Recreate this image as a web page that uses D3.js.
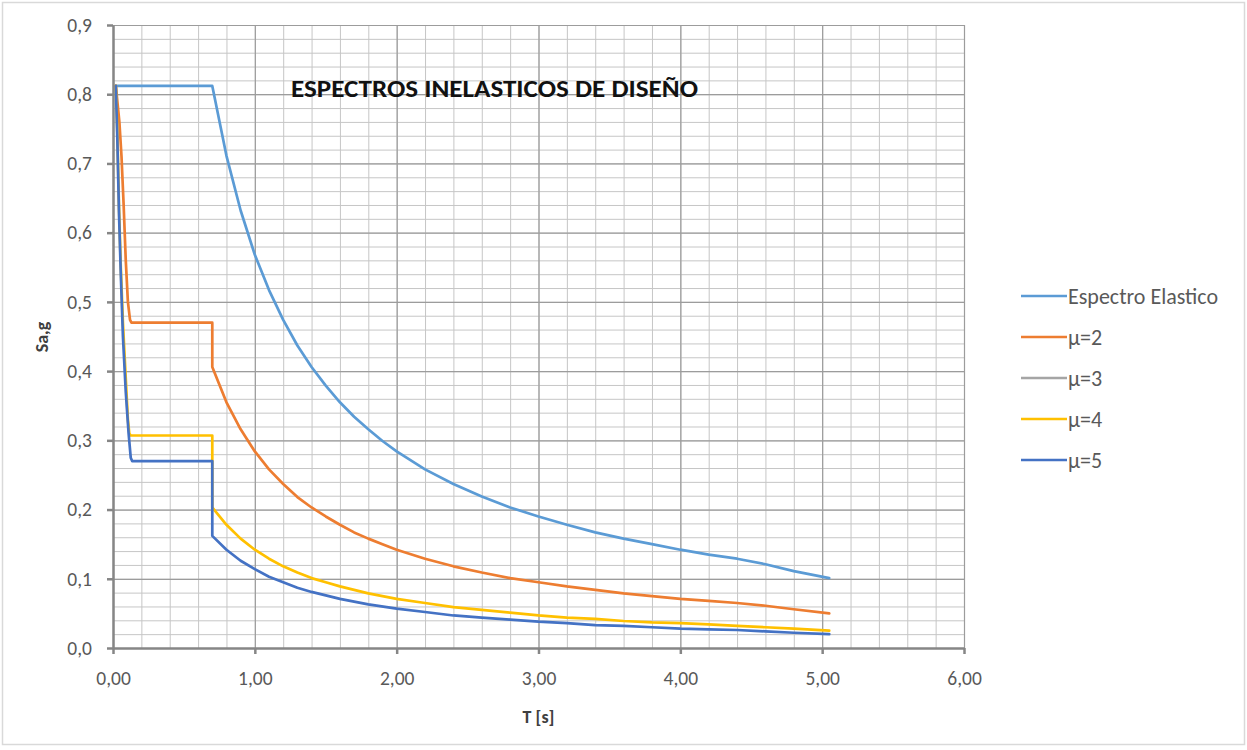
<!DOCTYPE html>
<html>
<head>
<meta charset="utf-8">
<script src="https://cdn.jsdelivr.net/npm/d3@7/dist/d3.min.js"></script>
<style>
  html, body { margin: 0; padding: 0; background: #ffffff; }
  svg { display: block; }
  text { font-family: Carlito, Calibri, Lato, "Open Sans", sans-serif; }
</style>
</head>
<body>
<svg id="chart" width="1247" height="750"></svg>
<script>
// ---- Data: period T [s] and spectral acceleration Sa [g] ----
const elasticT  = [0.02, 0.70, 0.80, 0.90, 1.00, 1.10, 1.20, 1.30, 1.40, 1.50, 1.60, 1.70, 1.80, 1.90, 2.00, 2.20, 2.40, 2.60, 2.80, 3.00, 3.20, 3.40, 3.60, 3.80, 4.00, 4.20, 4.40, 4.60, 4.80, 5.05];
const elasticSa = [0.812, 0.812, 0.711, 0.632, 0.568, 0.517, 0.474, 0.437, 0.406, 0.379, 0.355, 0.334, 0.316, 0.299, 0.284, 0.258, 0.237, 0.219, 0.203, 0.190, 0.178, 0.167, 0.158, 0.150, 0.142, 0.135, 0.129, 0.121, 0.111, 0.101];

const mu2T  = [0.02, 0.045, 0.06, 0.075, 0.09, 0.105, 0.12, 0.13, 0.70, 0.70, 0.80, 0.90, 1.00, 1.10, 1.20, 1.30, 1.40, 1.50, 1.60, 1.70, 1.80, 1.90, 2.00, 2.20, 2.40, 2.60, 2.80, 3.00, 3.20, 3.40, 3.60, 3.80, 4.00, 4.20, 4.40, 4.60, 4.80, 5.05];
const mu2Sa = [0.812, 0.760, 0.710, 0.640, 0.560, 0.500, 0.474, 0.470, 0.470, 0.406, 0.355, 0.316, 0.284, 0.258, 0.237, 0.218, 0.203, 0.190, 0.178, 0.167, 0.158, 0.150, 0.142, 0.129, 0.118, 0.109, 0.101, 0.095, 0.089, 0.084, 0.079, 0.075, 0.071, 0.068, 0.065, 0.061, 0.056, 0.050];

// μ=3 has no plotted values in this chart (legend entry only)
const mu3T  = [];
const mu3Sa = [];

const mu4T  = [0.02, 0.03, 0.042, 0.055, 0.07, 0.09, 0.105, 0.115, 0.125, 0.70, 0.70, 0.80, 0.90, 1.00, 1.10, 1.20, 1.30, 1.40, 1.50, 1.60, 1.80, 2.00, 2.20, 2.40, 2.60, 2.80, 3.00, 3.20, 3.40, 3.60, 3.80, 4.00, 4.20, 4.40, 4.60, 4.80, 5.05];
const mu4Sa = [0.812, 0.750, 0.640, 0.550, 0.470, 0.390, 0.330, 0.310, 0.307, 0.307, 0.203, 0.178, 0.158, 0.142, 0.129, 0.118, 0.109, 0.101, 0.095, 0.089, 0.079, 0.071, 0.065, 0.059, 0.055, 0.051, 0.047, 0.044, 0.042, 0.039, 0.037, 0.036, 0.034, 0.032, 0.030, 0.028, 0.025];

const mu5T  = [0.02, 0.03, 0.042, 0.055, 0.07, 0.09, 0.11, 0.125, 0.135, 0.70, 0.70, 0.80, 0.90, 1.00, 1.10, 1.20, 1.30, 1.40, 1.50, 1.60, 1.80, 2.00, 2.20, 2.40, 2.60, 2.80, 3.00, 3.20, 3.40, 3.60, 3.80, 4.00, 4.20, 4.40, 4.60, 4.80, 5.05];
const mu5Sa = [0.812, 0.740, 0.630, 0.540, 0.450, 0.370, 0.310, 0.275, 0.270, 0.270, 0.162, 0.142, 0.126, 0.114, 0.103, 0.095, 0.087, 0.081, 0.076, 0.071, 0.063, 0.057, 0.052, 0.047, 0.044, 0.041, 0.038, 0.036, 0.033, 0.032, 0.030, 0.028, 0.027, 0.026, 0.024, 0.022, 0.020];

const seriesNames  = ["Espectro Elastico", "μ=2", "μ=3", "μ=4", "μ=5"];
const seriesColors = ["#5b9bd5", "#ed7d31", "#a5a5a5", "#ffc000", "#4472c4"];
const seriesT  = [elasticT, mu2T, mu3T, mu4T, mu5T];
const seriesSa = [elasticSa, mu2Sa, mu3Sa, mu4Sa, mu5Sa];

const xTickValues = [0, 1, 2, 3, 4, 5, 6];
const yTickValues = [0, 0.1, 0.2, 0.3, 0.4, 0.5, 0.6, 0.7, 0.8, 0.9];

const chartTitle = "ESPECTROS INELASTICOS DE DISEÑO";
const xTitle = "T [s]";
const yTitle = "Sa,g";

// ---- Layout ----
const W = 1247, H = 750;
const plot = { left: 113, right: 964, top: 25, bottom: 648 };

const svg = d3.select("#chart");

// outer chart frame
svg.append("rect")
  .attr("x", 2.5).attr("y", 2.5)
  .attr("width", W - 5).attr("height", H - 8)
  .attr("fill", "#ffffff")
  .attr("stroke", "#d9d9d9").attr("stroke-width", 1.5);

const x = d3.scaleLinear().domain([0, 6]).range([plot.left, plot.right]);
const y = d3.scaleLinear().domain([0, 0.9]).range([plot.bottom, plot.top]);

const locale = d3.formatLocale({ decimal: ",", thousands: ".", grouping: [3], currency: ["", ""] });
const fmtX = locale.format(".2f");
const fmtY = locale.format(".1f");

// ---- Gridlines (minor then major) ----
const grid = svg.append("g").attr("class", "grid");
const xMinor = d3.range(0, 6.0001, 0.2);
const yMinor = d3.range(0, 0.9001, 0.02);

function gridLayer(axisFn, translate, values, size, color, width) {
  grid.append("g")
    .attr("transform", translate)
    .call(axisFn.tickValues(values).tickSize(size).tickFormat(""))
    .call(g => g.select(".domain").remove())
    .call(g => g.selectAll("line").attr("stroke", color).attr("stroke-width", width));
}
gridLayer(d3.axisBottom(x), `translate(0,${plot.bottom})`, xMinor, -(plot.bottom - plot.top), "#c6c6c6", 1);
gridLayer(d3.axisLeft(y), `translate(${plot.left},0)`, yMinor, -(plot.right - plot.left), "#c6c6c6", 1);
gridLayer(d3.axisBottom(x), `translate(0,${plot.bottom})`, xTickValues, -(plot.bottom - plot.top), "#9c9c9c", 1.2);
gridLayer(d3.axisLeft(y), `translate(${plot.left},0)`, yTickValues, -(plot.right - plot.left), "#9c9c9c", 1.2);

// ---- Axes ----
const xAxis = svg.append("g")
  .attr("transform", `translate(0,${plot.bottom})`)
  .call(d3.axisBottom(x).tickValues(xTickValues).tickSize(6).tickSizeOuter(0).tickPadding(17).tickFormat(fmtX));
const yAxis = svg.append("g")
  .attr("transform", `translate(${plot.left},0)`)
  .call(d3.axisLeft(y).tickValues(yTickValues).tickSize(6).tickSizeOuter(0).tickPadding(15).tickFormat(fmtY));

[xAxis, yAxis].forEach(a => {
  a.select(".domain").attr("stroke", "#868686").attr("stroke-width", 2.5);
  a.selectAll(".tick line").attr("stroke", "#868686").attr("stroke-width", 2.5);
  a.selectAll(".tick text")
    .attr("fill", "#595959")
    .style("font-size", "19.5px")
    .style("font-family", "Carlito, Calibri, Lato, sans-serif");
});

// ---- Series ----
const line = d3.line()
  .x(d => x(d[0]))
  .y(d => y(d[1]));

const linesG = svg.append("g").attr("class", "series");
seriesNames.forEach((name, i) => {
  const pts = seriesT[i].map((t, k) => [t, seriesSa[i][k]]);
  if (!pts.length) return;
  linesG.append("path")
    .datum(pts)
    .attr("fill", "none")
    .attr("stroke", seriesColors[i])
    .attr("stroke-width", 2.7)
    .attr("stroke-linejoin", "round")
    .attr("stroke-linecap", "round")
    .attr("d", line);
});

// ---- Title ----
svg.append("text")
  .attr("x", 494.5).attr("y", 97)
  .attr("text-anchor", "middle")
  .attr("fill", "#111111")
  .attr("textLength", 407)
  .attr("lengthAdjust", "spacingAndGlyphs")
  .style("font-size", "25px")
  .style("font-weight", "bold")
  .text(chartTitle);

// ---- Axis titles ----
svg.append("text")
  .attr("x", (plot.left + plot.right) / 2).attr("y", 723)
  .attr("text-anchor", "middle")
  .attr("fill", "#404040")
  .style("font-size", "18px")
  .style("font-weight", "bold")
  .text(xTitle);

svg.append("text")
  .attr("transform", `translate(48,337) rotate(-90)`)
  .attr("text-anchor", "middle")
  .attr("fill", "#404040")
  .style("font-size", "18px")
  .style("font-weight", "bold")
  .text(yTitle);

// ---- Legend ----
const legend = svg.append("g").attr("class", "legend");
const legendRowY = d3.scaleLinear().domain([0, seriesNames.length - 1]).range([296, 460]);
seriesNames.forEach((name, i) => {
  const gy = legendRowY(i);
  legend.append("line")
    .attr("x1", 1021).attr("x2", 1067)
    .attr("y1", gy).attr("y2", gy)
    .attr("stroke", seriesColors[i])
    .attr("stroke-width", 2.7);
  legend.append("text")
    .attr("x", 1068).attr("y", gy)
    .attr("dy", "0.35em")
    .attr("fill", "#595959")
    .style("font-size", "22px")
    .text(name);
});
</script>
</body>
</html>
